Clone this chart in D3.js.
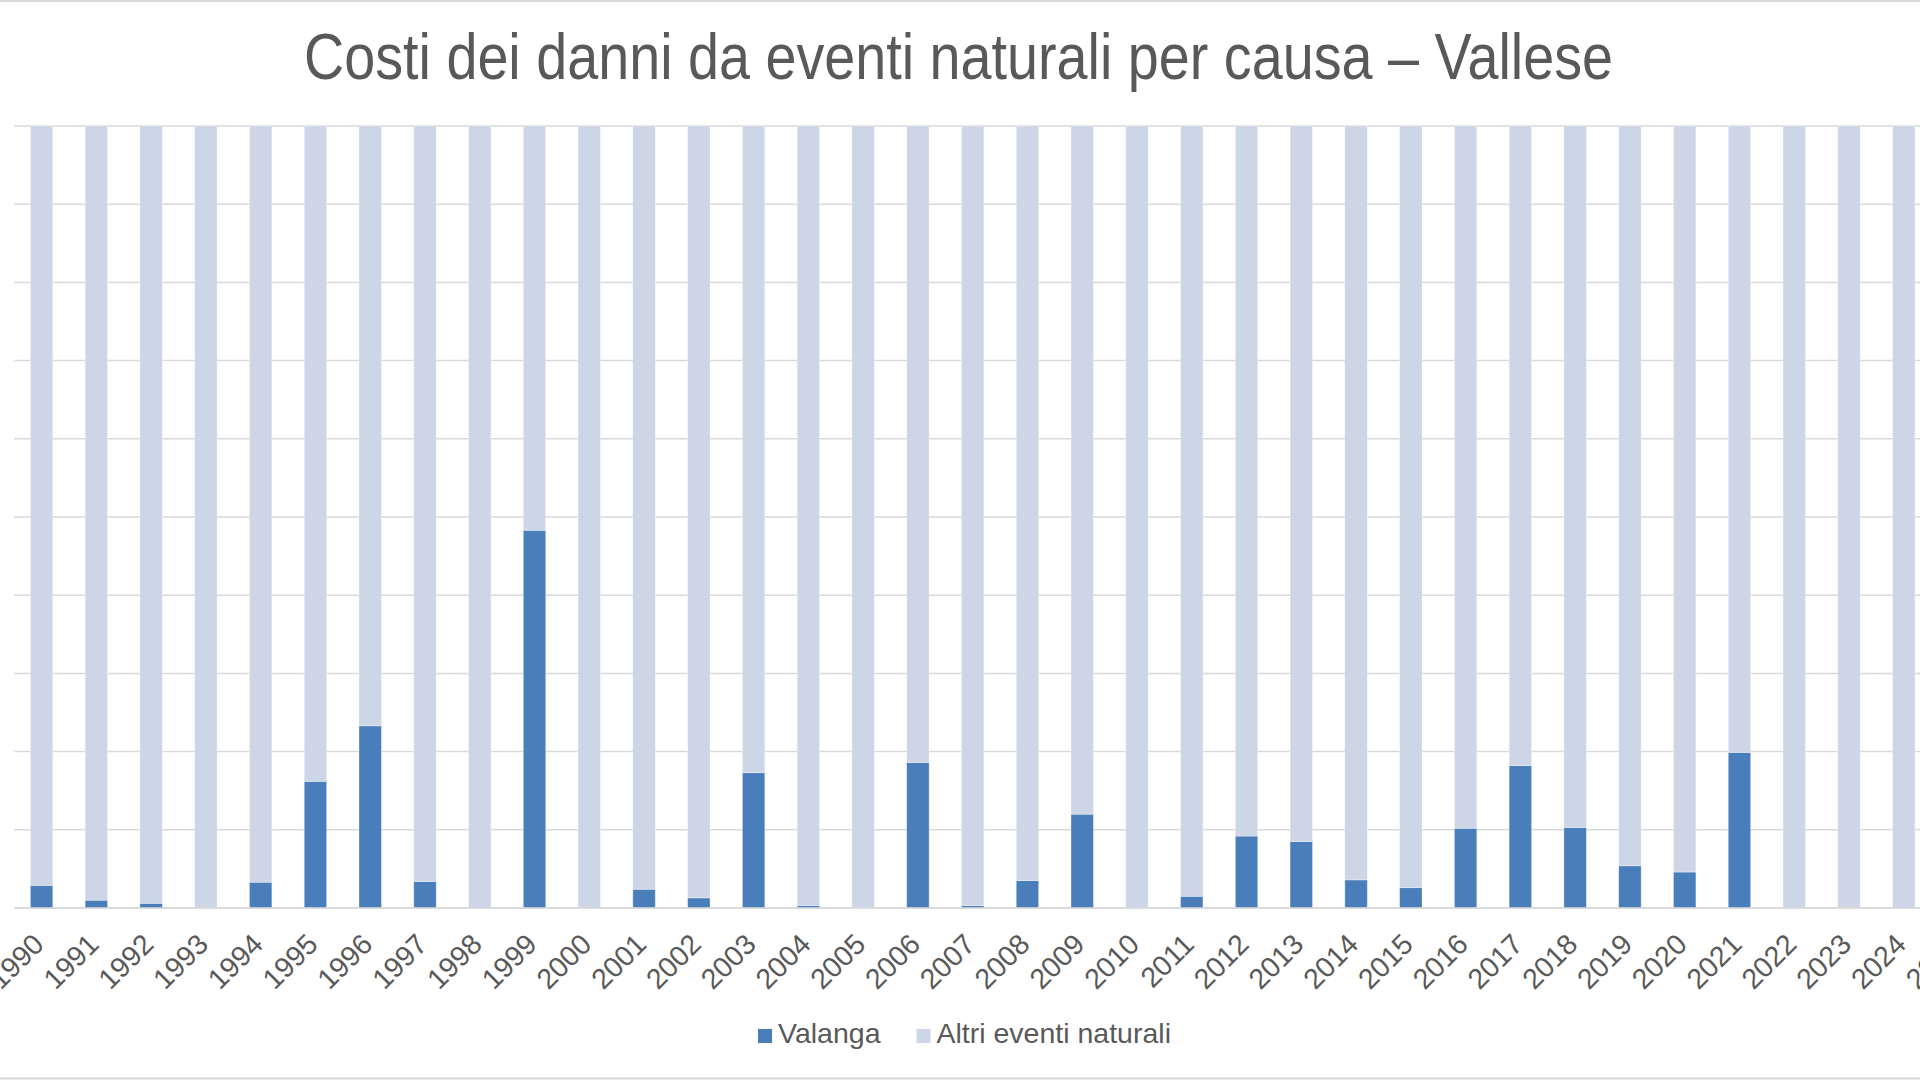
<!DOCTYPE html>
<html lang="it">

<head>
    <meta charset="UTF-8">
    <title>Costi dei danni da eventi naturali per causa – Vallese</title>
    <script src="https://d3js.org/d3.v7.min.js"></script>
    <style>
        body {
            margin: 0;
            background: #fff;
            overflow: hidden;
        }

        text {
            font-family: "Liberation Sans", Arial, sans-serif;
            fill: #595959;
        }

        .grid line {
            stroke: #d9d9d9;
            stroke-width: 1.5;
        }
    </style>
</head>

<body>
    <script>
        var years = ["1990", "1991", "1992", "1993", "1994", "1995", "1996", "1997", "1998", "1999",
            "2000", "2001", "2002", "2003", "2004", "2005", "2006", "2007", "2008", "2009",
            "2010", "2011", "2012", "2013", "2014", "2015", "2016", "2017", "2018", "2019",
            "2020", "2021", "2022", "2023", "2024", "2025"];

        // quota in % dei costi
        var valanga = [2.9, 1.0, 0.6, 0, 3.3, 16.2, 23.3, 3.4, 0.1, 48.3,
            0.1, 2.4, 1.3, 17.3, 0.3, 0.05, 18.6, 0.3, 3.5, 12.0,
            0, 1.5, 9.2, 8.5, 3.6, 2.6, 10.2, 18.2, 10.3, 5.4,
            4.6, 19.9, 0, 0, 0.1, 0];
        var altri = [97.1, 99.0, 99.4, 100, 96.7, 83.8, 76.7, 96.6, 99.9, 51.7,
            99.9, 97.6, 98.7, 82.7, 99.7, 99.95, 81.4, 99.7, 96.5, 88.0,
            100, 98.5, 90.8, 91.5, 96.4, 97.4, 89.8, 81.8, 89.7, 94.6,
            95.4, 80.1, 100, 100, 99.9, 100];

        var seriesNames = ["Valanga", "Altri eventi naturali"];
        var colors = ["#4a7ebb", "#cdd6e6"];
        var yTicks = [0, 0.1, 0.2, 0.3, 0.4, 0.5, 0.6, 0.7, 0.8, 0.9, 1];

        var W = 1920, H = 1080;
        var plotLeft = 14.2, plotTop = 126, plotBottom = 908;
        var step = 54.77;
        var plotRight = plotLeft + step * years.length;

        var svg = d3.select("body").append("svg")
            .attr("width", W).attr("height", H);

        // bordo dell'area grafico (tagliato ai lati)
        svg.append("rect")
            .attr("x", -10).attr("y", 1)
            .attr("width", W + 20).attr("height", H - 2.5)
            .attr("fill", "none")
            .attr("stroke", "#d9d9d9")
            .attr("stroke-width", 2);

        svg.append("text")
            .attr("x", 958.5).attr("y", 79)
            .attr("text-anchor", "middle")
            .attr("font-size", 65)
            .attr("textLength", 1309)
            .attr("lengthAdjust", "spacingAndGlyphs")
            .text("Costi dei danni da eventi naturali per causa – Vallese");

        var table = years.map(function(y, i) {
            return { year: y, Valanga: valanga[i], "Altri eventi naturali": altri[i] };
        });

        var stacked = d3.stack()
            .keys(seriesNames)
            .offset(d3.stackOffsetExpand)(table);

        var x = d3.scaleBand()
            .domain(years)
            .range([plotLeft, plotRight])
            .paddingInner(0.59)
            .paddingOuter(0.295);

        var y = d3.scaleLinear().domain([0, 1]).range([plotBottom, plotTop]);

        svg.append("g").attr("class", "grid")
            .selectAll("line").data(yTicks)
            .enter().append("line")
            .attr("x1", plotLeft).attr("x2", plotRight)
            .attr("y1", function(d) { return y(d); })
            .attr("y2", function(d) { return y(d); });

        var layers = svg.append("g").selectAll("g").data(stacked)
            .enter().append("g")
            .attr("fill", function(d, i) { return colors[i]; });

        layers.selectAll("rect")
            .data(function(d) { return d; })
            .enter().append("rect")
            .attr("x", function(d) { return x(d.data.year); })
            .attr("width", x.bandwidth())
            .attr("y", function(d) { return y(d[1]); })
            .attr("height", function(d) { return y(d[0]) - y(d[1]); })
            .attr("stroke", "#ffffff")
            .attr("stroke-opacity", 0.45)
            .attr("stroke-width", 0.75);

        // asse orizzontale
        svg.append("line")
            .attr("x1", plotLeft).attr("x2", plotRight)
            .attr("y1", plotBottom).attr("y2", plotBottom)
            .attr("stroke", "#d9d9d9").attr("stroke-width", 1.5);

        svg.append("g").selectAll("text").data(years)
            .enter().append("text")
            .attr("transform", function(d) {
                return "translate(" + (x(d) + x.bandwidth() / 2 + 4) + "," + 946 + ") rotate(-45)";
            })
            .attr("text-anchor", "end")
            .attr("font-size", 28.5)
            .text(function(d) { return d; });

        // legenda
        var legend = svg.append("g");
        var lx = 0;
        seriesNames.forEach(function(name, i) {
            var item = legend.append("g").attr("transform", "translate(" + lx + ",0)");
            item.append("rect")
                .attr("x", 0).attr("y", -14)
                .attr("width", 14).attr("height", 14)
                .attr("fill", colors[i]);
            var t = item.append("text")
                .attr("x", 20).attr("y", 0)
                .attr("font-size", 28.5)
                .text(name);
            lx += 20 + t.node().getComputedTextLength() + 36;
        });
        var legendWidth = lx - 36;
        legend.attr("transform", "translate(" + (964.5 - legendWidth / 2) + ",1043)");
    </script>
</body>

</html>
